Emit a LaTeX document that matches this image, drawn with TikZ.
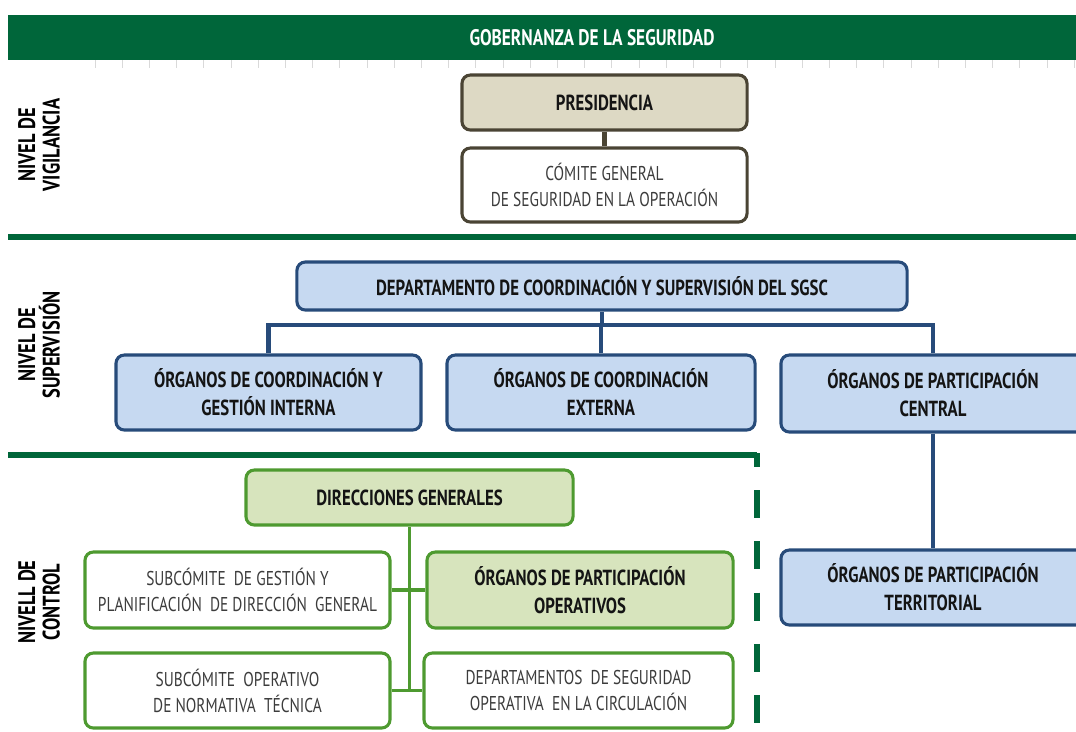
\documentclass[tikz,border=0pt]{standalone}
\usepackage{fontspec}
\setmainfont{PT Sans}[FakeStretch=0.77]
\usetikzlibrary{positioning}
\definecolor{govGreen}{HTML}{00663A}
\definecolor{presFill}{HTML}{DDD9C4}
\definecolor{presLine}{HTML}{4A4434}
\definecolor{supFill}{HTML}{C6D9F1}
\definecolor{supLine}{HTML}{274B7A}
\definecolor{ctlFill}{HTML}{D7E4BD}
\definecolor{ctlLine}{HTML}{4E9A30}
\definecolor{textDark}{HTML}{141414}
\definecolor{textGrey}{HTML}{3C3C3C}

\begin{document}
\begin{tikzpicture}[x=0.025cm, y=-0.025cm,
    bx/.style={rectangle, rounded corners=6pt, line width=2.2pt, align=center, inner sep=2pt},
    txtb/.style={font=\bfseries\fontsize{15.5}{20}\selectfont, text=textDark},
    txtr/.style={font=\fontsize{14.2}{18.5}\selectfont, text=textGrey},
    vig/.style={bx, draw=presLine, fill=#1, minimum width=7.125cm},
    sup/.style={bx, txtb, draw=supLine, fill=supFill, minimum width=7.625cm, minimum height=1.875cm},
    ctl/.style={bx, draw=ctlLine, fill=#1, minimum width=7.625cm, minimum height=1.9cm},
    lvl/.style={rotate=90, align=center, font=\bfseries\fontsize{17}{17.5}\selectfont, text=black},
    band/.style={fill=govGreen, text=white, minimum width=29.2cm, minimum height=1.125cm,
                 inner sep=0pt, font=\bfseries\fontsize{16}{18}\selectfont},
    sepline/.style={draw=govGreen, line width=4pt},
    tickmark/.style={draw=black!15, line width=0.6pt},
    bus/.style={draw=supLine, line width=3pt},
    vigline/.style={draw=presLine, line width=3pt},
    trunk/.style={draw=ctlLine, line width=2.6pt},
  ]
  \clip (0,0) rectangle (1076,731);

  % cabecera
  \node[band] (title) at (592,37.5) {GOBERNANZA DE LA SEGURIDAD};
  \foreach \i in {0,...,36}
    \draw[tickmark] ({95+27.2*\i},60) -- ++(0,8);

  % separadores de nivel
  \draw[sepline] (8,237) -- (1090,237);
  \draw[sepline] (8,455) -- (757,455);
  \draw[sepline, dash pattern=on 0.7cm off 0.58cm, dash phase=0.35cm] (757,453) -- (757,745);

  \node[lvl] (lvlvig) at (39,145) {NIVEL DE\\VIGILANCIA};
  \node[lvl] (lvlsup) at (39,345) {NIVEL DE\\SUPERVISIÓN};
  \node[lvl] (lvlctl) at (39,602) {NIVELL DE\\CONTROL};

  % nivel de vigilancia
  \node[vig=presFill, txtb, minimum height=1.375cm] (pres) at (604.5,102.5) {PRESIDENCIA};
  \node[vig=white, txtr, minimum height=1.85cm] (comite) at (604.5,185)
    {CÓMITE GENERAL\\DE SEGURIDAD EN LA OPERACIÓN};
  \draw[vigline] (pres.south) -- (comite.north);

  % nivel de supervision
  \node[sup, minimum width=15.25cm, minimum height=1.2cm] (depto) at (602,286)
    {DEPARTAMENTO DE COORDINACIÓN Y SUPERVISIÓN DEL SGSC};
  \node[sup] (interna) at (268.5,392.5) {ÓRGANOS DE COORDINACIÓN Y\\GESTIÓN INTERNA};
  \node[sup, minimum width=7.7cm] (externa) at (601,392.5) {ÓRGANOS DE COORDINACIÓN\\EXTERNA};
  \node[sup, minimum width=7.6cm, minimum height=1.925cm] (central) at (933,393.5)
    {ÓRGANOS DE PARTICIPACIÓN\\CENTRAL};
  \node[sup, minimum width=7.6cm] (territ) at (933,587.5)
    {ÓRGANOS DE PARTICIPACIÓN\\TERRITORIAL};
  \coordinate (busmid) at (602,325);
  \draw[bus] (depto.south) -- (busmid);
  \draw[bus] (interna.north) |- (busmid) -| (central.north);
  \draw[bus] (externa.north) -- (externa.north |- busmid);
  \draw[bus] (central.south) -- (territ.north);

  % nivel de control
  \node[ctl=ctlFill, txtb, minimum width=8.175cm, minimum height=1.375cm] (direcc) at (409.5,497.5)
    {DIRECCIONES GENERALES};
  \node[ctl=white, txtr] (subgest) at (237.5,590)
    {SUBCÓMITE\ \ DE GESTIÓN Y\\PLANIFICACIÓN\ \ DE DIRECCIÓN\ \ GENERAL};
  \node[ctl=ctlFill, txtb, minimum width=7.65cm] (operat) at (580,590)
    {ÓRGANOS DE PARTICIPACIÓN\\OPERATIVOS};
  \node[ctl=white, txtr, minimum height=1.875cm] (subop) at (237.5,690.5)
    {SUBCÓMITE\ \ OPERATIVO\\DE NORMATIVA\ \ TÉCNICA};
  \node[ctl=white, txtr, minimum width=7.725cm, minimum height=1.875cm] (deptos) at (578.5,690.5)
    {DEPARTAMENTOS\ \ DE SEGURIDAD\\OPERATIVA\ \ EN LA CIRCULACIÓN};
  \draw[trunk] (direcc.south) -- (direcc.south |- subop.east);
  \draw[trunk] (subgest.east) -- (operat.west);
  \draw[trunk] (subop.east) -- (deptos.west);
\end{tikzpicture}
\end{document}
